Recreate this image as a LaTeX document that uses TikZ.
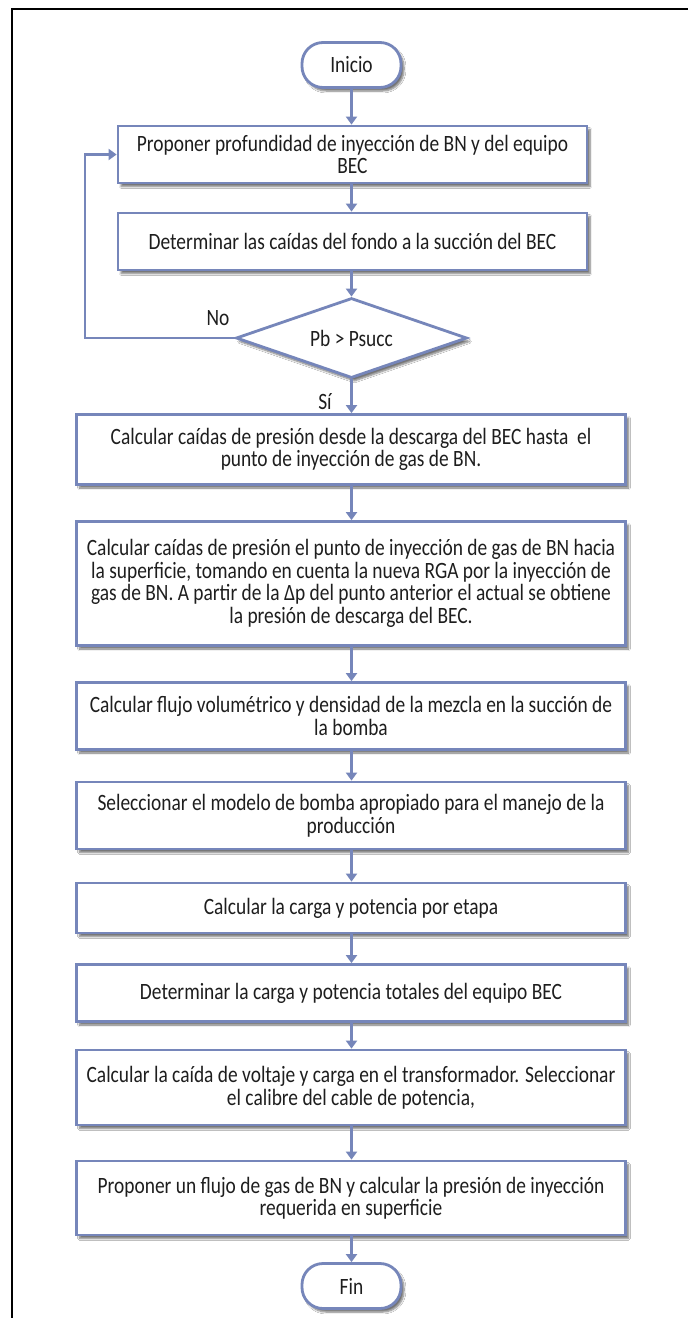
\documentclass[tikz,border=0pt]{standalone}
\usepackage{fontspec}
\setmainfont{Carlito}[FakeStretch=0.83]
\usetikzlibrary{arrows.meta,shapes.geometric,shadows.blur}
\definecolor{bord}{RGB}{118,134,186}
\definecolor{txt}{RGB}{30,30,30}
\tikzset{
  base/.style={draw=bord, line width=2.8pt, fill=white, text=txt, align=center,
    inner sep=0pt, font=\fontsize{23.4pt}{22.5pt}\selectfont,
    blur shadow={shadow xshift=3pt, shadow yshift=-3.5pt, shadow blur steps=6, shadow opacity=55}},
  stepbox/.style={base, rectangle, minimum width=549pt},
  topbox/.style={base, rectangle, minimum width=469pt},
  term/.style={base, rectangle, rounded corners=21pt, minimum width=99pt, minimum height=45pt},
  decision/.style={base, diamond, minimum width=231pt, minimum height=80pt, aspect=2.9},
  lbl/.style={text=txt, inner sep=0pt, font=\fontsize{23.4pt}{22.5pt}\selectfont},
  arr/.style={draw=bord, line width=2.8pt, -{Triangle[length=8pt,width=11pt]}},
}
\begin{document}
\begin{tikzpicture}[x=1pt,y=-1pt]
\useasboundingbox (0,0) rectangle (688,1318);
\fill[white] (0,0) rectangle (688,1318);
\draw[line width=2pt] (12,1318) -- (12,9) -- (688,9);

\node[term] (ini) at (351.5,65) {Inicio};
\node[topbox, minimum height=57pt] (b1) at (352.5,154.5) {Proponer profundidad de inyección de BN y del equipo\\BEC};
\node[topbox, minimum height=57pt] (b2) at (352.5,241.5) {Determinar las caídas del fondo a la succión del BEC};
\node[decision] (dia) at (351.5,338) {Pb > Psucc};
\node[stepbox, minimum height=70pt] (b3) at (351,449.5) {Calcular caídas de presión desde la descarga del BEC hasta~ el\\punto de inyección de gas de BN.};
\node[stepbox, minimum height=124pt] (b4) at (351,583.5) {Calcular caídas de presión el punto de inyección de gas de BN hacia\\la superficie, tomando en cuenta la nueva RGA por la inyección de\\gas de BN. A partir de la Δp del punto anterior el actual se obtiene\\la presión de descarga del BEC.};
\node[stepbox, minimum height=67pt] (b5) at (351,716) {Calcular flujo volumétrico y densidad de la mezcla en la succión de\\la bomba};
\node[stepbox, minimum height=67pt] (b6) at (351,815.5) {Seleccionar el modelo de bomba apropiado para el manejo de la\\producción};
\node[stepbox, minimum height=50pt] (b7) at (351,908) {Calcular la carga y potencia por etapa};
\node[stepbox, minimum height=57pt] (b8) at (351,993) {Determinar la carga y potencia totales del equipo BEC};
\node[stepbox, minimum height=75pt] (b9) at (351,1087.5) {Calcular la caída de voltaje y carga en el transformador. Seleccionar\\el calibre del cable de potencia,};
\node[stepbox, minimum height=74pt] (b10) at (351,1198) {Proponer un flujo de gas de BN y calcular la presión de inyección\\requerida en superficie};
\node[term] (fin) at (351.5,1286) {Fin};

\node[lbl] (no) at (218,318) {No};
\node[lbl] (si) at (325,402) {Sí};

\draw[arr] (ini.south) -- (ini.south |- b1.north);
\draw[arr] (ini.south |- b1.south) -- (ini.south |- b2.north);
\draw[arr] (ini.south |- b2.south) -- (dia.north);
\coordinate (lp) at (85,338);
\draw[arr] (dia.west) -- (lp) |- (b1.west);
\draw[arr] (dia.south) -- (dia.south |- b3.north);
\draw[arr] (dia.south |- b3.south) -- (dia.south |- b4.north);
\draw[arr] (dia.south |- b4.south) -- (dia.south |- b5.north);
\draw[arr] (dia.south |- b5.south) -- (dia.south |- b6.north);
\draw[arr] (dia.south |- b6.south) -- (dia.south |- b7.north);
\draw[arr] (dia.south |- b7.south) -- (dia.south |- b8.north);
\draw[arr] (dia.south |- b8.south) -- (dia.south |- b9.north);
\draw[arr] (dia.south |- b9.south) -- (dia.south |- b10.north);
\draw[arr] (dia.south |- b10.south) -- (fin.north);
\end{tikzpicture}
\end{document}
